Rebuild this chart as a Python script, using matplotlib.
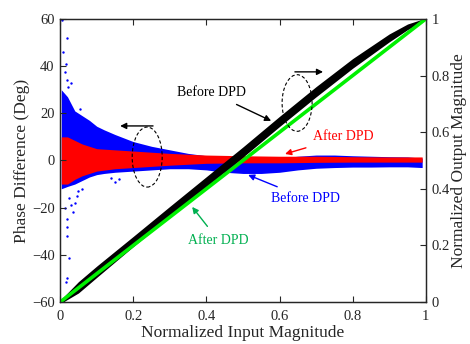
import matplotlib
matplotlib.use("Agg")
import matplotlib.pyplot as plt
from matplotlib.patches import Ellipse

plt.rcParams['font.family'] = ['Liberation Serif', 'DejaVu Serif']

# phase difference before DPD (blue cloud envelope, deg)
blue_x = [0.003, 0.02, 0.04, 0.06, 0.08, 0.1, 0.12, 0.15, 0.2, 0.25, 0.3, 0.35,
          0.4, 0.45, 0.5, 0.55, 0.6, 0.65, 0.7, 0.75, 0.8, 0.85, 0.9, 0.95, 0.99]
blue_hi = [30, 27, 21, 19, 17, 14.5, 13, 11, 8, 6, 4.5, 3,
           2, 1.2, 0.8, 0.6, 1.0, 1.8, 2.3, 2.3, 2.0, 1.8, 1.6, 1.5, 1.0]
blue_lo = [-12, -11, -10, -8.5, -7, -6, -5.5, -5, -4.5, -4, -3.5, -3.5,
           -4, -5, -5.5, -5.5, -5, -4, -3.3, -3, -2.8, -2.8, -2.7, -2.7, -3]
# scattered blue outliers near zero input
blue_out_x = [0.005, 0.008, 0.012, 0.015, 0.018, 0.018, 0.022, 0.012, 0.018, 0.018,
              0.018, 0.023, 0.018, 0.016, 0.03, 0.035, 0.04, 0.14, 0.15, 0.16,
              0.045, 0.05, 0.055, 0.03, 0.025, 0.06]
blue_out_y = [59.6, 46, 37.7, 41, 52, 34, 31, -20, -25, -28,
              -32, -41.4, -50, -51.4, -19, -22, -18, -7.5, -9, -8,
              -15, -13, 22, 33, -16, -12]

# phase difference after DPD (red cloud envelope, deg)
red_x = [0.003, 0.02, 0.04, 0.06, 0.08, 0.1, 0.15, 0.2, 0.3, 0.4, 0.5, 0.6, 0.7, 0.8, 0.9, 0.99]
red_hi = [10, 10, 8.5, 7, 6, 5, 4.5, 4, 3, 2.3, 2, 1.8, 1.8, 1.6, 1.5, 1.5]
red_lo = [-10, -10, -8, -6.5, -5.5, -4.5, -3.5, -3, -2, -1.2, -1, -1, -0.8, -0.7, -0.7, -0.7]

# AM/AM before DPD (black band, normalized output)
amam_x = [0, 0.05, 0.1, 0.2, 0.3, 0.4, 0.5, 0.6, 0.7, 0.8, 0.9, 0.95, 1.0]
amam_before = [0, 0.052, 0.107, 0.214, 0.32, 0.425, 0.53, 0.638, 0.743, 0.843, 0.933, 0.972, 1.0]
amam_half = [0.006, 0.02, 0.02, 0.018, 0.018, 0.018, 0.018, 0.018, 0.018, 0.017, 0.014, 0.01, 0.003]

# AM/AM after DPD (green line)
after_x = [0, 0.25, 0.5, 0.75, 1.0]
after_y = [0, 0.25, 0.5, 0.75, 1.0]

fig = plt.figure(figsize=(4.7, 3.44), dpi=100)
ax = fig.add_axes([0.128, 0.122, 0.778, 0.823])
ax2 = ax.twinx()

# phase clouds
ax.fill_between(blue_x, blue_lo, blue_hi, color='#0000ff', lw=0)
ax.scatter(blue_out_x, blue_out_y, s=3, color='#0000ff', lw=0)
ax.fill_between(red_x, red_lo, red_hi, color='#ff0000', lw=0)

# AM/AM
lo = [c - h for c, h in zip(amam_before, amam_half)]
hi = [c + h for c, h in zip(amam_before, amam_half)]
ax2.fill_between(amam_x, lo, hi, color='black', lw=0)
ax2.plot(after_x, after_y, color='#00f000', lw=2.6, solid_capstyle='butt')

ax.set_xlim(0, 1)
ax.set_ylim(-60, 60)
ax2.set_ylim(0, 1)
ax.set_xticks([0, 0.2, 0.4, 0.6, 0.8, 1])
ax.set_xticklabels(['0', '0.2', '0.4', '0.6', '0.8', '1'])
ax.set_yticks([-60, -40, -20, 0, 20, 40, 60])
ax2.set_yticks([0, 0.2, 0.4, 0.6, 0.8, 1])
ax2.set_yticklabels(['0', '0.2', '0.4', '0.6', '0.8', '1'])

ax.tick_params(direction='in', length=4, width=0.8, labelsize=10.5, colors='#262626',
               top=True, right=False)
ax.tick_params(axis='x', pad=6)
ax.tick_params(axis='y', pad=4)
ax2.tick_params(direction='in', length=4, width=0.8, labelsize=10.5, colors='#262626', pad=4)
for a in (ax, ax2):
    for s in a.spines.values():
        s.set_linewidth(0.9)
        s.set_color('#262626')

ax.set_xlabel('Normalized Input Magnitude', fontsize=12.5, color='#262626', labelpad=1)
ax.set_ylabel('Phase Difference (Deg)', fontsize=12.5, color='#262626', labelpad=1)
ax2.set_ylabel('Normalized Output Magnitude', fontsize=12.5, color='#262626', labelpad=1)

# annotations (in right-axis coordinates)
ax2.add_patch(Ellipse((0.238, 0.512), 0.082, 0.212, fill=False, ls=(0, (3, 2)), lw=0.8, ec='black', zorder=5))
ax2.add_patch(Ellipse((0.648, 0.703), 0.082, 0.2, fill=False, ls=(0, (3, 2)), lw=0.8, ec='black', zorder=5))

arrow = dict(arrowstyle='-|>', lw=1.0, mutation_scale=9, shrinkA=0, shrinkB=0)
ax2.annotate('', xy=(0.164, 0.622), xytext=(0.254, 0.622), arrowprops=dict(arrow, color='black'))
ax2.annotate('', xy=(0.719, 0.813), xytext=(0.642, 0.813), arrowprops=dict(arrow, color='black'))

ax2.annotate('Before DPD', xy=(0.577, 0.64), xytext=(0.415, 0.739), fontsize=10, color='black',
             ha='center', va='center', arrowprops=dict(arrow, color='black', shrinkA=4))
ax2.annotate('After DPD', xy=(0.615, 0.523), xytext=(0.773, 0.583), fontsize=10, color='#ff0000',
             ha='center', va='center', arrowprops=dict(arrow, color='#ff0000', shrinkA=4))
ax2.annotate('Before DPD', xy=(0.514, 0.449), xytext=(0.67, 0.367), fontsize=10, color='#0000ff',
             ha='center', va='center', arrowprops=dict(arrow, color='#0000ff', shrinkA=4))
ax2.annotate('After DPD', xy=(0.361, 0.336), xytext=(0.432, 0.219), fontsize=10, color='#00b050',
             ha='center', va='center', arrowprops=dict(arrow, color='#00b050', shrinkA=4))

fig.savefig('out.png', dpi=100)
